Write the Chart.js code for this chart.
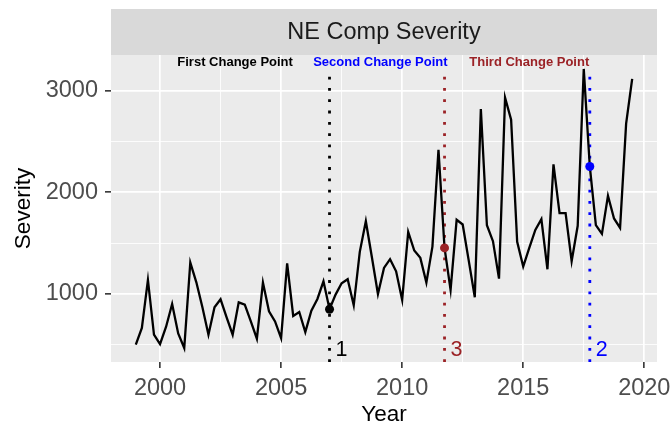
<!DOCTYPE html>
<html>
<head>
<meta charset="utf-8">
<title>NE Comp Severity</title>
<script src="https://cdn.jsdelivr.net/npm/chart.js@4.4.1/dist/chart.umd.min.js"></script>
<style>
  html, body { margin: 0; padding: 0; background: #ffffff; }
  #wrap { width: 672px; height: 423px; }
</style>
</head>
<body>
<div id="wrap"><canvas id="severity-chart" width="672" height="423"></canvas></div>
<script>
// Quarterly dates and severity values
const quarters = [
  1999.00, 1999.25, 1999.50, 1999.75,
  2000.00, 2000.25, 2000.50, 2000.75,
  2001.00, 2001.25, 2001.50, 2001.75,
  2002.00, 2002.25, 2002.50, 2002.75,
  2003.00, 2003.25, 2003.50, 2003.75,
  2004.00, 2004.25, 2004.50, 2004.75,
  2005.00, 2005.25, 2005.50, 2005.75,
  2006.00, 2006.25, 2006.50, 2006.75,
  2007.00, 2007.25, 2007.50, 2007.75,
  2008.00, 2008.25, 2008.50, 2008.75,
  2009.00, 2009.25, 2009.50, 2009.75,
  2010.00, 2010.25, 2010.50, 2010.75,
  2011.00, 2011.25, 2011.50, 2011.75,
  2012.00, 2012.25, 2012.50, 2012.75,
  2013.00, 2013.25, 2013.50, 2013.75,
  2014.00, 2014.25, 2014.50, 2014.75,
  2015.00, 2015.25, 2015.50, 2015.75,
  2016.00, 2016.25, 2016.50, 2016.75,
  2017.00, 2017.25, 2017.50, 2017.75,
  2018.00, 2018.25, 2018.50, 2018.75,
  2019.00, 2019.25, 2019.50
];
const severity = [
  502, 666, 1138, 600,
  508, 679, 902, 613,
  469, 1309, 1115, 869,
  600, 869, 948, 771,
  600, 918, 895, 731,
  561, 1112, 830, 731,
  567, 1302, 784, 823,
  626, 836, 951, 1125,
  850, 994, 1105, 1145,
  889, 1414, 1715, 1361,
  1000, 1256, 1342, 1223,
  941, 1610, 1427, 1355,
  1112, 1466, 2417, 1453,
  1040, 1729, 1683, 1328,
  968, 2818, 1676, 1519,
  1151, 2929, 2713, 1512,
  1269, 1453, 1630, 1735,
  1243, 2273, 1794, 1794,
  1322, 1670, 3211, 2253,
  1676, 1591, 1965, 1742,
  1650, 2673, 3113
];

// Change points (numbered as in the picture)
const changeDates = [2007.00, 2017.75, 2011.75];
const changeNames = ['1', '2', '3'];
const changeColors = ['#000000', '#0000ff', '#9b2226'];

// Header labels above the change lines
const headerLabels = ['First Change Point', 'Second Change Point', 'Third Change Point'];
const headerColors = ['#000000', '#0000ff', '#9b2226'];

// Axis ticks
const yTicks = [500, 1000, 1500, 2000, 2500, 3000];
const xTicks = [2000, 2002.5, 2005, 2007.5, 2010, 2012.5, 2015, 2017.5, 2020];

const FONT = '"Liberation Sans", Arial, sans-serif';

// value of a change point on the series
function severityAt(date) {
    return severity[quarters.indexOf(date)];
}

const ggPanel = {
    id: 'ggPanel',
    beforeDraw(chart) {
        const ctx = chart.ctx;
        const a = chart.chartArea;
        ctx.save();
        // grey panel
        ctx.fillStyle = '#ebebeb';
        ctx.fillRect(a.left, a.top, a.right - a.left, a.bottom - a.top);
        // facet strip
        ctx.fillStyle = '#d9d9d9';
        ctx.fillRect(a.left, 9, a.right - a.left, a.top - 9);
        ctx.fillStyle = '#1a1a1a';
        ctx.font = '23.5px ' + FONT;
        ctx.textAlign = 'center';
        ctx.textBaseline = 'middle';
        ctx.fillText('NE Comp Severity', (a.left + a.right) / 2, 33);
        // axis titles
        ctx.fillStyle = '#000000';
        ctx.font = '22.5px ' + FONT;
        ctx.fillText('Year', (a.left + a.right) / 2, 415);
        ctx.translate(24, (a.top + a.bottom) / 2);
        ctx.rotate(-Math.PI / 2);
        ctx.fillText('Severity', 0, 0);
        ctx.restore();
    },
    beforeDatasetsDraw(chart) {
        const ctx = chart.ctx;
        const a = chart.chartArea;
        const xs = chart.scales.x;
        const ys = chart.scales.y;
        ctx.save();
        // dotted change lines
        ctx.lineWidth = 2.8;
        ctx.lineCap = 'butt';
        ctx.setLineDash([2.8, 8.5]);
        changeDates.forEach((d, i) => {
            const px = xs.getPixelForValue(d);
            ctx.strokeStyle = changeColors[i];
            ctx.beginPath();
            ctx.moveTo(px, a.bottom);
            ctx.lineTo(px, ys.getPixelForValue(3150));
            ctx.stroke();
        });
        ctx.setLineDash([]);
        // numbers beside the lines
        ctx.font = '21.5px ' + FONT;
        ctx.textAlign = 'left';
        ctx.textBaseline = 'middle';
        changeDates.forEach((d, i) => {
            ctx.fillStyle = changeColors[i];
            ctx.fillText(changeNames[i], xs.getPixelForValue(d) + 6, ys.getPixelForValue(450));
        });
        // header labels
        const headerAt = [2003.1, 2009.1, 2015.25];
        ctx.font = 'bold 13px ' + FONT;
        ctx.textAlign = 'center';
        headerLabels.forEach((t, i) => {
            ctx.fillStyle = headerColors[i];
            ctx.fillText(t, xs.getPixelForValue(headerAt[i]), ys.getPixelForValue(3277));
        });
        ctx.restore();
    }
};

function generateSeverityChart() {
    const ctx = document.getElementById('severity-chart').getContext('2d');
    const seriesPoints = quarters.map((q, i) => ({ x: q, y: severity[i] }));
    const changePoints = changeDates.map(d => ({ x: d, y: severityAt(d) }));

    new Chart(ctx, {
        type: 'line',
        data: {
            datasets: [
                {
                    label: 'Change points',
                    type: 'scatter',
                    data: changePoints,
                    pointRadius: 4.5,
                    pointHoverRadius: 4.5,
                    pointBackgroundColor: changeColors,
                    pointBorderColor: changeColors,
                    pointBorderWidth: 0,
                    order: 0
                },
                {
                    label: 'Severity',
                    data: seriesPoints,
                    borderColor: '#000000',
                    borderWidth: 2.3,
                    pointRadius: 0,
                    tension: 0,
                    fill: false,
                    order: 1
                }
            ]
        },
        options: {
            responsive: false,
            animation: false,
            events: [],
            layout: { padding: { left: 0, top: 55, right: 15, bottom: 0 } },
            plugins: {
                legend: { display: false },
                tooltip: { enabled: false },
                title: { display: false }
            },
            scales: {
                x: {
                    type: 'linear',
                    min: 1997.975,
                    max: 2020.525,
                    afterBuildTicks(scale) { scale.ticks = xTicks.map(v => ({ value: v })); },
                    afterFit(scale) {
                        scale.height = 61;
                        scale.paddingLeft = 0;
                        scale.paddingRight = 0;
                    },
                    border: { display: false },
                    grid: {
                        color: '#ffffff',
                        lineWidth: c => (c.tick && c.tick.value % 5 === 0) ? 1.7 : 0.85,
                        tickColor: c => (c.tick && c.tick.value % 5 === 0) ? '#333333' : 'rgba(0,0,0,0)',
                        tickLength: 6,
                        tickWidth: 1.6
                    },
                    ticks: {
                        autoSkip: false,
                        maxRotation: 0,
                        padding: 6,
                        color: '#4d4d4d',
                        font: { family: FONT, size: 23.5 },
                        callback: v => (v % 5 === 0) ? String(v) : ''
                    }
                },
                y: {
                    type: 'linear',
                    min: 332,
                    max: 3348,
                    afterBuildTicks(scale) { scale.ticks = yTicks.map(v => ({ value: v })); },
                    afterFit(scale) {
                        scale.width = 111;
                        scale.paddingTop = 0;
                        scale.paddingBottom = 0;
                    },
                    border: { display: false },
                    grid: {
                        color: '#ffffff',
                        lineWidth: c => (c.tick && c.tick.value % 1000 === 0) ? 1.7 : 0.85,
                        tickColor: c => (c.tick && c.tick.value % 1000 === 0) ? '#333333' : 'rgba(0,0,0,0)',
                        tickLength: 6,
                        tickWidth: 1.6
                    },
                    ticks: {
                        autoSkip: false,
                        padding: 7,
                        color: '#4d4d4d',
                        font: { family: FONT, size: 23.5 },
                        callback: v => (v % 1000 === 0) ? String(v) : ''
                    }
                }
            }
        },
        plugins: [ggPanel]
    });
}

generateSeverityChart();
</script>
</body>
</html>
